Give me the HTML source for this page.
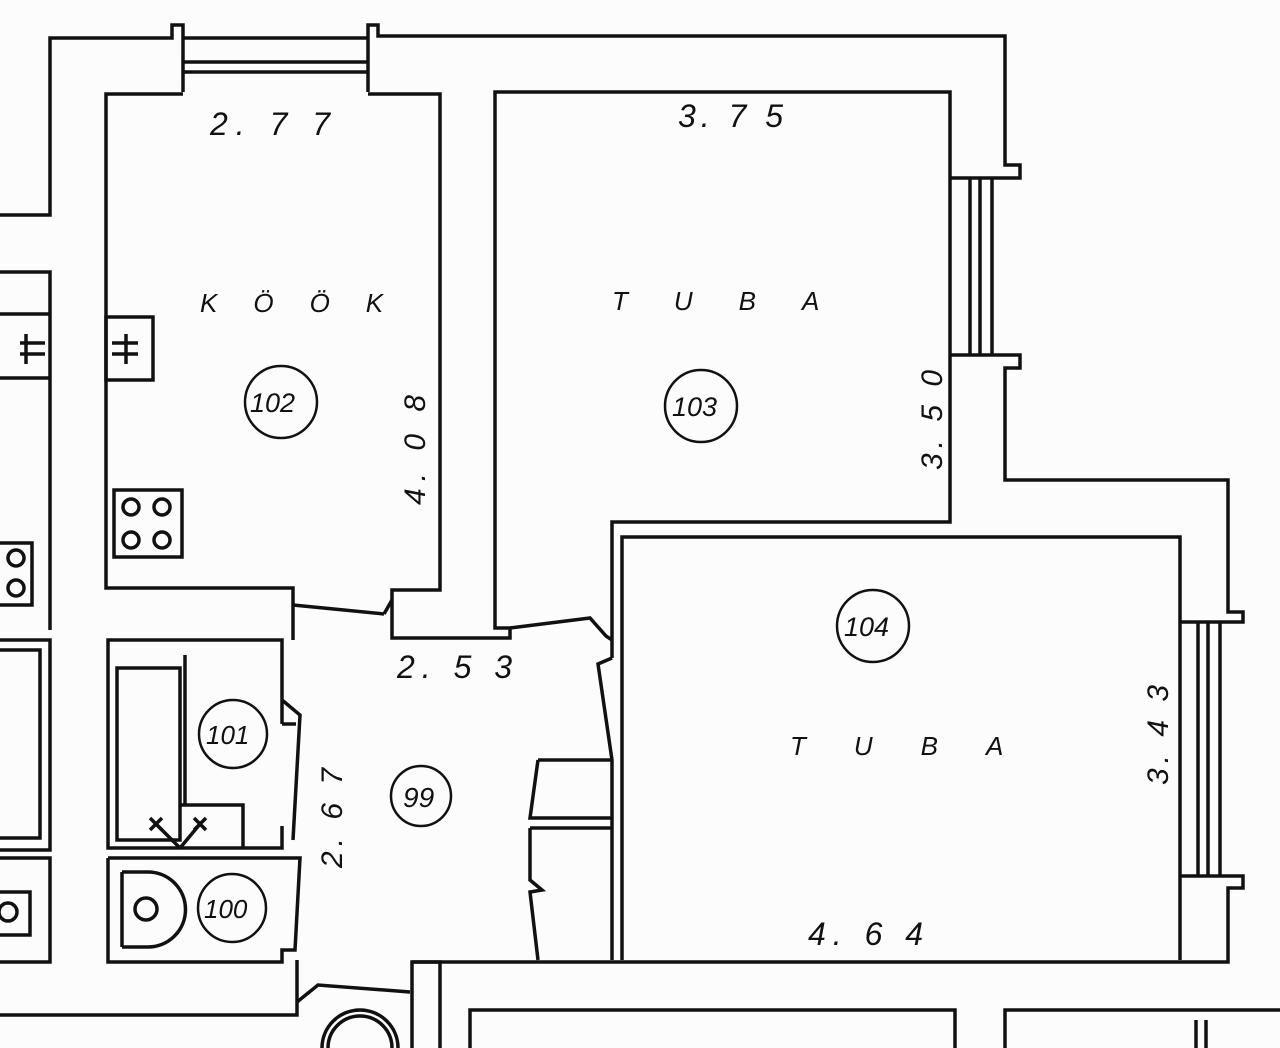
<!DOCTYPE html>
<html><head><style>
html,body{margin:0;padding:0;background:#fcfcfc;}
svg{display:block}
text{font-family:"Liberation Sans",sans-serif;font-style:italic;fill:#111;}
</style></head><body>
<svg width="1280" height="1048" viewBox="0 0 1280 1048" xmlns="http://www.w3.org/2000/svg">
<g fill="none" stroke="#111" stroke-width="3.5" stroke-linejoin="miter">
<polyline points="0,215 50,215 50,38 172,38 172,25 183,25 183,92"/>
<polyline points="183,38 368,38"/>
<polyline points="183,62 368,62"/>
<polyline points="183,72 368,72"/>
<polyline points="368,92 368,25 378,25 378,36 1005,36 1005,165 1020,165 1020,178 1005,178"/>
<polyline points="1005,355 1020,355 1020,368 1005,368 1005,480 1228,480 1228,612 1243,612 1243,622 1228,622"/>
<polyline points="1228,876 1243,876 1243,888 1228,888 1228,962 412,962 412,1048"/>
<polyline points="950,178 1005,178"/>
<polyline points="950,355 1005,355"/>
<line x1="970" y1="178" x2="970" y2="355"/>
<line x1="980" y1="178" x2="980" y2="355"/>
<line x1="992" y1="178" x2="992" y2="355"/>
<polyline points="1180,622 1228,622"/>
<polyline points="1180,876 1228,876"/>
<line x1="1198" y1="622" x2="1198" y2="876"/>
<line x1="1208" y1="622" x2="1208" y2="876"/>
<line x1="1220" y1="622" x2="1220" y2="876"/>
<polyline points="293,640 293,588 106,588 106,94 183,94"/>
<polyline points="368,94 440,94 440,590 392,590 392,638 510,638 510,628 495,628 495,92 950,92 950,522 612,522 612,658"/>
<line x1="293" y1="605" x2="384" y2="614"/>
<line x1="384" y1="614" x2="392" y2="600"/>
<rect x="106" y="317" width="47" height="63"/>
<rect x="114" y="490" width="68" height="67"/>
<circle cx="131" cy="507" r="8"/><circle cx="162" cy="507" r="8"/>
<circle cx="131" cy="540" r="8"/><circle cx="162" cy="540" r="8"/>
<line x1="112" y1="343" x2="138" y2="343"/><line x1="112" y1="354" x2="138" y2="354"/>
<line x1="126" y1="334" x2="126" y2="364"/>
<polyline points="510,628 590,618 606,636 612,640"/>
<polyline points="622,960 622,537 1180,537 1180,960"/>
<polyline points="612,658 598,664 612,760 612,960"/>
<polyline points="538,760 612,760"/>
<polyline points="538,760 530,818 612,818"/>
<polyline points="530,828 612,828"/>
<polyline points="530,828 530,880 542,890 530,892 538,960"/>
<polyline points="0,272 50,272 50,630"/>
<polyline points="0,314 50,314"/><polyline points="0,378 50,378"/>
<line x1="20" y1="343" x2="45" y2="343"/><line x1="20" y1="354" x2="45" y2="354"/>
<line x1="26" y1="334" x2="26" y2="364"/>
<polyline points="0,543 32,543 32,605 0,605"/>
<circle cx="16" cy="558" r="8"/><circle cx="16" cy="588" r="8"/>
<polyline points="0,640 50,640 50,850 0,850"/>
<polyline points="0,650 40,650 40,838 0,838"/>
<polyline points="0,858 50,858 50,962 0,962"/>
<polyline points="0,892 30,892 30,935 0,935"/>
<circle cx="8" cy="912" r="9"/>
<polyline points="282,724 282,640 108,640 108,848 282,848 282,826"/>
<rect x="117" y="668" width="63" height="172"/>
<line x1="185" y1="655" x2="185" y2="805"/>
<polyline points="180,805 243,805 243,848"/>
<line x1="282" y1="724" x2="296" y2="724"/>
<polyline points="282,700 300,715 293,840"/>
<polyline points="108,858 300,858 295,950 282,950 282,962 108,962 108,858"/>
<line x1="122" y1="872" x2="122" y2="947"/>
<path d="M122,872 H148 A37,37 0 0 1 148,947 H122"/>
<circle cx="146" cy="909" r="11"/>
<line x1="150" y1="818" x2="162" y2="830"/><line x1="162" y1="818" x2="150" y2="830"/>
<line x1="194" y1="818" x2="206" y2="830"/><line x1="206" y1="818" x2="194" y2="830"/>
<line x1="156" y1="824" x2="180" y2="848"/><line x1="200" y1="824" x2="180" y2="848"/>
<polyline points="0,1015 297,1015 297,960"/>
<polyline points="297,1002 318,985 410,992"/>
<polyline points="412,962 440,962 440,1048"/>
<polyline points="470,1048 470,1010 955,1010 955,1048"/>
<polyline points="1005,1048 1005,1010 1280,1010"/>
<line x1="1196" y1="1020" x2="1196" y2="1048"/><line x1="1206" y1="1020" x2="1206" y2="1048"/>
<circle cx="360" cy="1048" r="38"/>
<circle cx="360" cy="1048" r="32"/>
<circle cx="281" cy="402" r="36" stroke-width="2.5"/>
<circle cx="701" cy="406" r="36" stroke-width="2.5"/>
<circle cx="873" cy="626" r="36" stroke-width="2.5"/>
<circle cx="233" cy="734" r="34" stroke-width="2.5"/>
<circle cx="421" cy="796" r="30" stroke-width="2.5"/>
<circle cx="232" cy="908" r="34" stroke-width="2.5"/>
</g>
<g font-size="32">
<text x="210" y="135" letter-spacing="8">2. 7 7</text>
<text x="678" y="127" letter-spacing="5">3. 7 5</text>
<text x="397" y="678" letter-spacing="7">2. 5 3</text>
<text x="808" y="945" letter-spacing="7">4. 6 4</text>
<text x="200" y="312" font-size="26" letter-spacing="36">KÖÖK</text>
<text x="612" y="310" font-size="26" letter-spacing="46">TUBA</text>
<text x="790" y="755" font-size="26" letter-spacing="48">TUBA</text>
<text font-size="30" letter-spacing="7" transform="translate(425,505) rotate(-90)">4. 0 8</text>
<text font-size="30" letter-spacing="5" transform="translate(942,470) rotate(-90)">3. 5 0</text>
<text font-size="30" letter-spacing="5" transform="translate(1168,785) rotate(-90)">3. 4 3</text>
<text font-size="30" letter-spacing="5" transform="translate(342,868) rotate(-90)">2. 6 7</text>
<text x="250" y="412" font-size="27">102</text>
<text x="672" y="416" font-size="27">103</text>
<text x="844" y="636" font-size="27">104</text>
<text x="206" y="744" font-size="26">101</text>
<text x="403" y="807" font-size="28">99</text>
<text x="204" y="918" font-size="26">100</text>
</g>
</svg>
</body></html>
